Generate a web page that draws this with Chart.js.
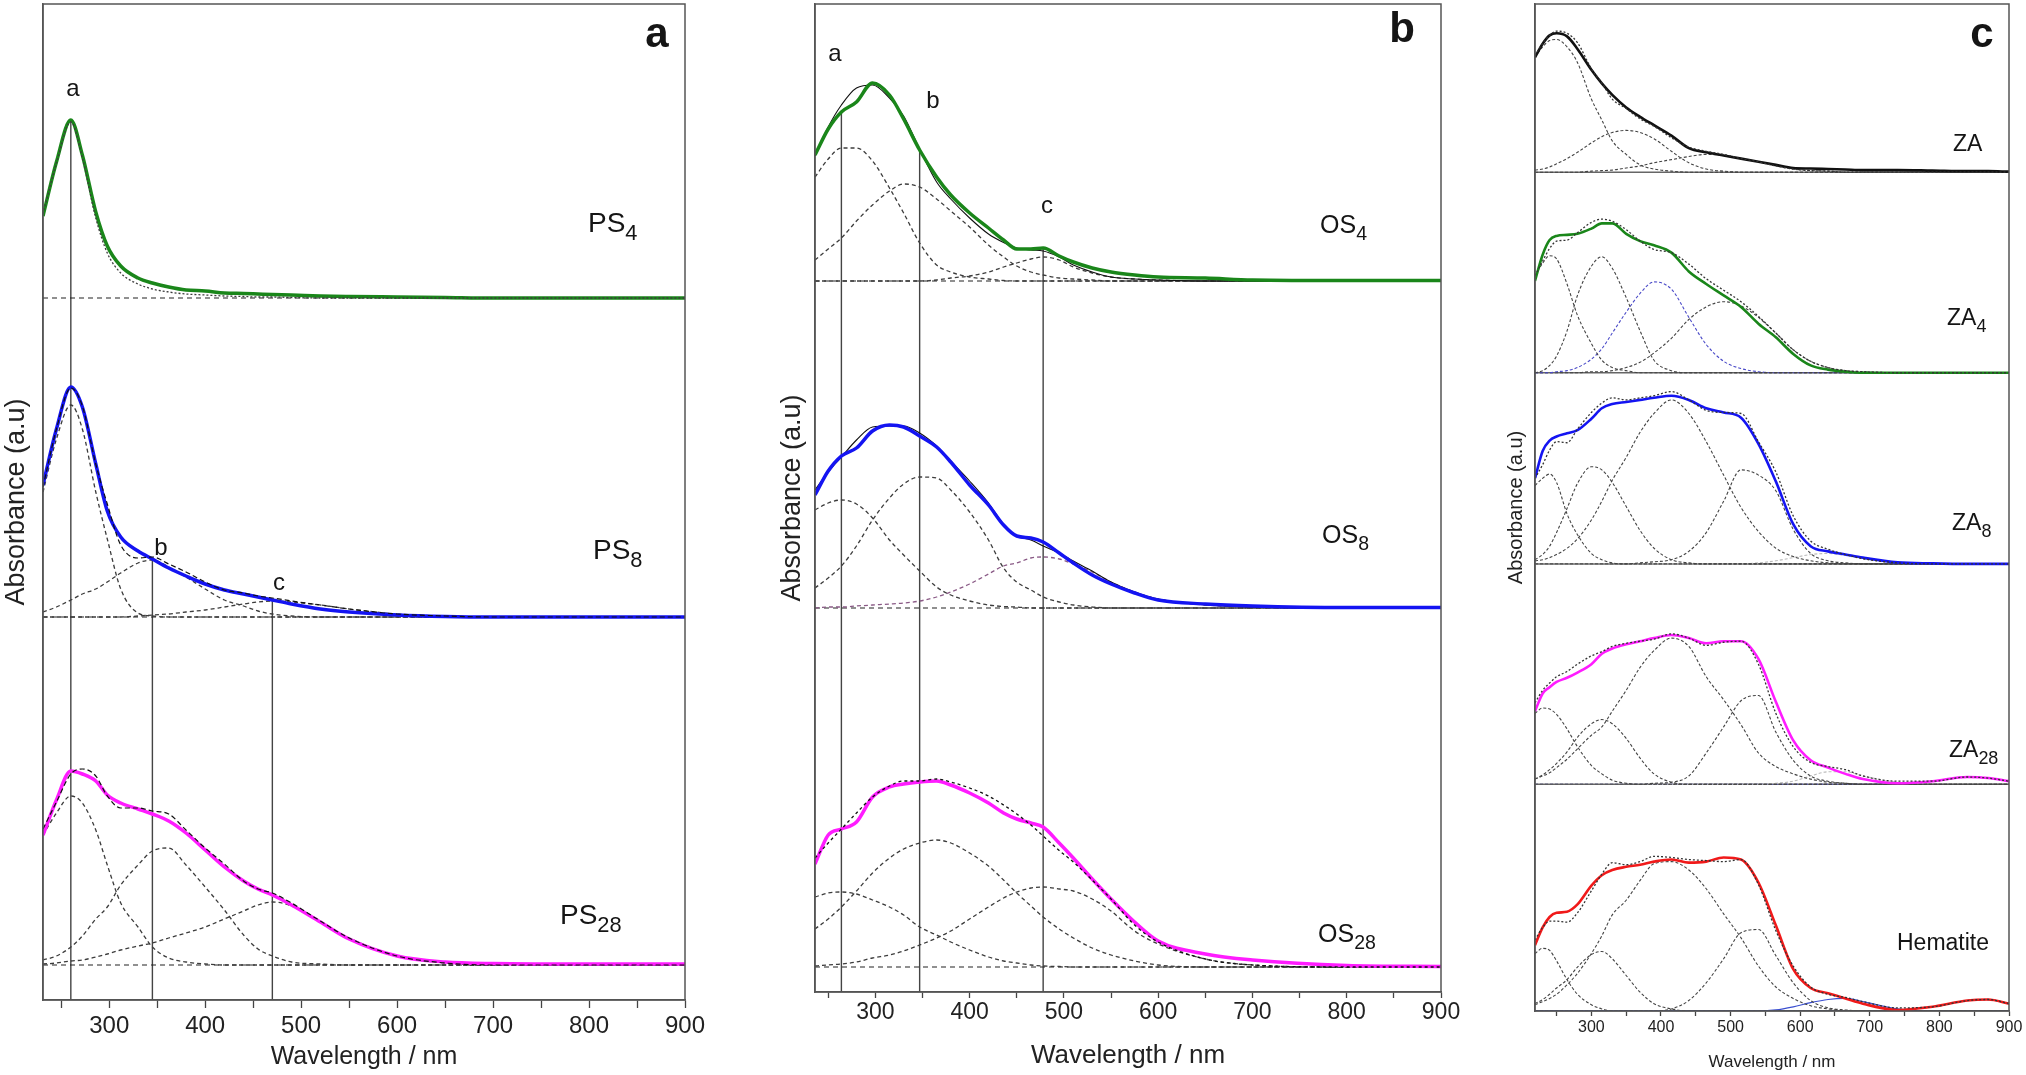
<!DOCTYPE html>
<html>
<head>
<meta charset="utf-8">
<title>UV-Vis deconvolution</title>
<script src="https://cdn.jsdelivr.net/npm/chart.js@4.4.1/dist/chart.umd.min.js"></script>
<style>
  body { margin: 0; background: #fff; width: 2026px; height: 1075px; overflow: hidden; position: relative; }
  canvas { position: absolute; top: 0; }
  .t { position: absolute; line-height: 1; white-space: nowrap; color: #151515; font-family: "Liberation Sans", Arial, sans-serif; }
  .t .s { position: relative; top: 0.38em; font-size: 0.78em; }
  .c { transform: translate(-50%, -50%); }
  .big { font-weight: bold; font-size: 42px; }
  .pk { font-size: 24px; }
  .ps { font-size: 28px; }
  .os { font-size: 25px; }
  .za { font-size: 23px; }
</style>
</head>
<body>
<canvas id="chartA" width="720" height="1075" style="left:0px"></canvas>
<canvas id="chartB" width="720" height="1075" style="left:760px"></canvas>
<canvas id="chartC" width="546" height="1075" style="left:1480px"></canvas>

<!-- etiquetas del panel a -->
<div class="t big c" style="left:657px;top:33px">a</div>
<div class="t pk c" style="left:73px;top:88px">a</div>
<div class="t pk c" style="left:161px;top:547px">b</div>
<div class="t pk c" style="left:279px;top:582px">c</div>
<div class="t ps" style="left:588px;top:209px">PS<span class="s">4</span></div>
<div class="t ps" style="left:593px;top:536px">PS<span class="s">8</span></div>
<div class="t ps" style="left:560px;top:901px">PS<span class="s">28</span></div>

<!-- etiquetas del panel b -->
<div class="t big c" style="left:1402px;top:28px">b</div>
<div class="t pk c" style="left:835px;top:53px">a</div>
<div class="t pk c" style="left:933px;top:100px">b</div>
<div class="t pk c" style="left:1047px;top:205px">c</div>
<div class="t os" style="left:1320px;top:212px">OS<span class="s">4</span></div>
<div class="t os" style="left:1322px;top:522px">OS<span class="s">8</span></div>
<div class="t os" style="left:1318px;top:921px">OS<span class="s">28</span></div>

<!-- etiquetas del panel c -->
<div class="t big c" style="left:1982px;top:33px">c</div>
<div class="t za" style="left:1953px;top:132px">ZA</div>
<div class="t za" style="left:1947px;top:306px">ZA<span class="s">4</span></div>
<div class="t za" style="left:1952px;top:511px">ZA<span class="s">8</span></div>
<div class="t za" style="left:1949px;top:738px">ZA<span class="s">28</span></div>
<div class="t za" style="left:1897px;top:931px">Hematite</div>

<script>
// ---- Panel a: PS4, PS8, PS28 ----
const wlA = [231, 245, 260, 272, 286, 298, 312, 330, 345, 362, 380, 400, 420, 440, 455, 470, 490, 520, 550, 600, 650, 700, 800, 900];
const offA = [7.02, 3.83, 0.35];
const ps4 = [0.82, 1.36, 1.78, 1.43, 0.86, 0.52, 0.32, 0.20, 0.15, 0.11, 0.08, 0.07, 0.05, 0.045, 0.04, 0.035, 0.03, 0.02, 0.015, 0.01, 0.005, 0, 0, 0];
const ps4Band = [0.84, 1.35, 1.76, 1.40, 0.80, 0.45, 0.25, 0.14, 0.09, 0.06, 0.04, 0.03, 0.02, 0.015, 0.01, 0.01, 0.005, 0, 0, 0, 0, 0, 0, 0];
const ps8 = [1.32, 1.88, 2.30, 2.10, 1.53, 1.06, 0.80, 0.66, 0.58, 0.49, 0.41, 0.33, 0.27, 0.23, 0.20, 0.17, 0.13, 0.08, 0.05, 0.02, 0.005, 0, 0, 0];
const ps8A = [1.25, 1.78, 2.12, 1.88, 1.25, 0.78, 0.28, 0.04, 0.01, 0, 0, 0, 0, 0, 0, 0, 0, 0, 0, 0, 0, 0, 0, 0];
const ps8B = [0.05, 0.10, 0.17, 0.23, 0.28, 0.35, 0.44, 0.54, 0.57, 0.50, 0.40, 0.28, 0.17, 0.11, 0.06, 0.03, 0.01, 0, 0, 0, 0, 0, 0, 0];
const ps8C = [0, 0, 0, 0, 0, 0, 0, 0.01, 0.02, 0.03, 0.05, 0.07, 0.10, 0.13, 0.15, 0.16, 0.15, 0.12, 0.08, 0.03, 0.01, 0, 0, 0];
const ps28 = [1.30, 1.65, 1.94, 1.91, 1.84, 1.70, 1.62, 1.56, 1.51, 1.44, 1.32, 1.15, 0.98, 0.84, 0.76, 0.70, 0.60, 0.43, 0.26, 0.09, 0.03, 0.015, 0.01, 0.01];
const ps28A = [1.30, 1.52, 1.69, 1.62, 1.35, 1.00, 0.62, 0.38, 0.18, 0.07, 0.03, 0.01, 0, 0, 0, 0, 0, 0, 0, 0, 0, 0, 0, 0];
const ps28B = [0.05, 0.09, 0.18, 0.29, 0.46, 0.58, 0.80, 1.00, 1.14, 1.17, 1.00, 0.78, 0.55, 0.30, 0.16, 0.09, 0.03, 0.01, 0, 0, 0, 0, 0, 0];
const ps28C = [0.01, 0.02, 0.04, 0.05, 0.08, 0.11, 0.15, 0.19, 0.22, 0.27, 0.32, 0.38, 0.46, 0.54, 0.60, 0.63, 0.59, 0.43, 0.27, 0.09, 0.02, 0, 0, 0];
const peaksA = [260, 345, 470];

// ---- Panel b: OS4, OS8, OS28 ----
const wlB = [236, 250, 264, 280, 297, 315, 330, 347, 365, 380, 400, 420, 436, 450, 465, 478, 495, 510, 530, 550, 575, 600, 650, 700, 800, 900];
const offB = [7.11, 3.84, 0.25];
const os4 = [1.26, 1.52, 1.69, 1.79, 1.98, 1.86, 1.62, 1.31, 1.04, 0.86, 0.68, 0.53, 0.41, 0.32, 0.32, 0.33, 0.25, 0.19, 0.13, 0.09, 0.06, 0.04, 0.03, 0.01, 0.005, 0.005];
const os4A = [1.04, 1.22, 1.33, 1.33, 1.20, 0.93, 0.68, 0.38, 0.16, 0.09, 0.04, 0.02, 0.005, 0, 0, 0, 0, 0, 0, 0, 0, 0, 0, 0, 0, 0];
const os4B = [0.21, 0.32, 0.43, 0.60, 0.76, 0.90, 0.97, 0.94, 0.82, 0.70, 0.54, 0.36, 0.24, 0.15, 0.09, 0.06, 0.03, 0.02, 0.01, 0, 0, 0, 0, 0, 0, 0];
const os4C = [0, 0, 0, 0, 0, 0, 0, 0, 0.01, 0.03, 0.05, 0.09, 0.14, 0.18, 0.22, 0.24, 0.21, 0.14, 0.08, 0.04, 0.02, 0.01, 0, 0, 0, 0];
const os8 = [1.13, 1.37, 1.52, 1.60, 1.77, 1.83, 1.81, 1.72, 1.61, 1.46, 1.23, 1.03, 0.83, 0.72, 0.70, 0.66, 0.55, 0.45, 0.33, 0.24, 0.15, 0.08, 0.04, 0.02, 0.005, 0.005];
const os8A = [0.98, 1.05, 1.08, 1.04, 0.90, 0.68, 0.53, 0.37, 0.21, 0.13, 0.07, 0.03, 0.015, 0.01, 0, 0, 0, 0, 0, 0, 0, 0, 0, 0, 0, 0];
const os8B = [0.20, 0.30, 0.42, 0.62, 0.88, 1.10, 1.24, 1.31, 1.30, 1.18, 0.96, 0.68, 0.40, 0.26, 0.18, 0.11, 0.06, 0.03, 0.01, 0, 0, 0, 0, 0, 0, 0];
const os8C = [0, 0.01, 0.01, 0.02, 0.03, 0.04, 0.05, 0.07, 0.11, 0.16, 0.24, 0.34, 0.42, 0.45, 0.50, 0.51, 0.49, 0.44, 0.36, 0.26, 0.16, 0.09, 0.03, 0.01, 0, 0];
const os28 = [1.03, 1.32, 1.38, 1.45, 1.70, 1.80, 1.83, 1.85, 1.86, 1.82, 1.74, 1.64, 1.54, 1.48, 1.44, 1.40, 1.24, 1.09, 0.88, 0.68, 0.45, 0.26, 0.13, 0.07, 0.015, 0.005];
const os28A = [0.70, 0.74, 0.75, 0.73, 0.67, 0.60, 0.52, 0.40, 0.32, 0.25, 0.17, 0.10, 0.06, 0.04, 0.02, 0.01, 0.005, 0, 0, 0, 0, 0, 0, 0, 0, 0];
const os28B = [0.38, 0.48, 0.60, 0.76, 0.94, 1.09, 1.18, 1.24, 1.27, 1.24, 1.14, 1.01, 0.87, 0.74, 0.61, 0.50, 0.38, 0.29, 0.19, 0.12, 0.06, 0.02, 0, 0, 0, 0];
const os28C = [0.01, 0.02, 0.03, 0.05, 0.09, 0.12, 0.16, 0.22, 0.29, 0.36, 0.48, 0.60, 0.69, 0.75, 0.79, 0.80, 0.78, 0.76, 0.68, 0.56, 0.36, 0.23, 0.08, 0.02, 0, 0];
const peaksB = [264, 347, 478];

// ---- Panel c: ZA, ZA4, ZA8, ZA28, Hematite ----
const wlC = [219, 230, 240, 250, 265, 280, 300, 315, 330, 350, 370, 390, 415, 440, 465, 490, 515, 540, 565, 590, 615, 640, 665, 690, 740, 790, 840, 870, 900];
const offC = [8.03, 6.11, 4.28, 2.17, 0];
const za = [1.10, 1.23, 1.31, 1.33, 1.30, 1.18, 0.98, 0.85, 0.74, 0.62, 0.53, 0.45, 0.35, 0.23, 0.19, 0.16, 0.13, 0.10, 0.07, 0.04, 0.035, 0.03, 0.025, 0.02, 0.02, 0.015, 0.01, 0.01, 0.005];
const zaA = [1.10, 1.20, 1.26, 1.27, 1.20, 1.05, 0.70, 0.50, 0.30, 0.17, 0.07, 0.03, 0.01, 0, 0, 0, 0, 0, 0, 0, 0, 0, 0, 0, 0, 0, 0, 0, 0];
const zaB = [0.02, 0.03, 0.05, 0.08, 0.13, 0.19, 0.28, 0.34, 0.38, 0.40, 0.38, 0.32, 0.20, 0.09, 0.03, 0.01, 0, 0, 0, 0, 0, 0, 0, 0, 0, 0, 0, 0, 0];
const zaC = [0, 0, 0, 0, 0, 0, 0.01, 0.015, 0.02, 0.04, 0.06, 0.09, 0.12, 0.15, 0.17, 0.16, 0.13, 0.10, 0.06, 0.03, 0.015, 0.01, 0, 0, 0, 0, 0, 0, 0];
const za4 = [0.88, 1.13, 1.27, 1.31, 1.32, 1.33, 1.38, 1.43, 1.43, 1.33, 1.26, 1.22, 1.15, 0.97, 0.85, 0.74, 0.63, 0.47, 0.34, 0.18, 0.07, 0.03, 0.01, 0, 0, 0, 0, 0, 0];
const za4A = [0.93, 1.05, 1.12, 1.09, 0.85, 0.55, 0.28, 0.12, 0.05, 0.02, 0, 0, 0, 0, 0, 0, 0, 0, 0, 0, 0, 0, 0, 0, 0, 0, 0, 0, 0];
const za4B = [0, 0.02, 0.07, 0.16, 0.40, 0.74, 1.02, 1.11, 1.00, 0.72, 0.40, 0.12, 0.02, 0, 0, 0, 0, 0, 0, 0, 0, 0, 0, 0, 0, 0, 0, 0, 0];
const za4C = [0, 0, 0, 0.01, 0.02, 0.05, 0.13, 0.23, 0.38, 0.58, 0.76, 0.87, 0.80, 0.53, 0.27, 0.11, 0.04, 0.01, 0, 0, 0, 0, 0, 0, 0, 0, 0, 0, 0];
const za4D = [0, 0, 0, 0, 0, 0, 0.01, 0.01, 0.02, 0.05, 0.10, 0.19, 0.33, 0.51, 0.63, 0.68, 0.64, 0.53, 0.38, 0.22, 0.11, 0.05, 0.02, 0.01, 0, 0, 0, 0, 0];
const za8 = [0.82, 1.08, 1.18, 1.22, 1.25, 1.28, 1.39, 1.49, 1.53, 1.55, 1.57, 1.59, 1.61, 1.57, 1.49, 1.45, 1.40, 1.15, 0.79, 0.38, 0.17, 0.12, 0.09, 0.06, 0.015, 0.005, 0, 0, 0];
const za8A = [0.75, 0.82, 0.86, 0.78, 0.48, 0.28, 0.10, 0.04, 0.01, 0, 0, 0, 0, 0, 0, 0, 0, 0, 0, 0, 0, 0, 0, 0, 0, 0, 0, 0, 0];
const za8B = [0.04, 0.09, 0.17, 0.30, 0.53, 0.77, 0.93, 0.90, 0.78, 0.55, 0.32, 0.15, 0.04, 0.01, 0, 0, 0, 0, 0, 0, 0, 0, 0, 0, 0, 0, 0, 0, 0];
const za8C = [0.03, 0.04, 0.06, 0.09, 0.15, 0.24, 0.42, 0.60, 0.80, 1.02, 1.26, 1.44, 1.57, 1.44, 1.17, 0.85, 0.54, 0.31, 0.15, 0.07, 0.03, 0.01, 0, 0, 0, 0, 0, 0, 0];
const za8D = [0, 0, 0, 0, 0, 0, 0, 0, 0, 0, 0.01, 0.02, 0.04, 0.12, 0.30, 0.60, 0.90, 0.85, 0.70, 0.33, 0.10, 0.03, 0.01, 0, 0, 0, 0, 0, 0];
const za8E = [0, 0, 0, 0, 0, 0, 0, 0, 0, 0, 0, 0, 0, 0, 0, 0, 0, 0.01, 0.03, 0.06, 0.09, 0.10, 0.08, 0.05, 0.01, 0, 0, 0, 0];
const za28 = [0.70, 0.87, 0.93, 0.98, 1.02, 1.07, 1.15, 1.25, 1.30, 1.34, 1.37, 1.40, 1.43, 1.40, 1.35, 1.37, 1.37, 1.20, 0.79, 0.42, 0.23, 0.16, 0.10, 0.05, 0.01, 0.03, 0.07, 0.06, 0.03];
const za28A = [0.68, 0.73, 0.72, 0.67, 0.53, 0.36, 0.18, 0.10, 0.04, 0.01, 0, 0, 0, 0, 0, 0, 0, 0, 0, 0, 0, 0, 0, 0, 0, 0, 0, 0, 0];
const za28B = [0.05, 0.09, 0.14, 0.20, 0.31, 0.45, 0.58, 0.62, 0.58, 0.44, 0.25, 0.10, 0.02, 0, 0, 0, 0, 0, 0, 0, 0, 0, 0, 0, 0, 0, 0, 0, 0];
const za28C = [0.05, 0.08, 0.11, 0.16, 0.24, 0.34, 0.47, 0.55, 0.70, 0.90, 1.12, 1.28, 1.40, 1.32, 1.03, 0.81, 0.57, 0.30, 0.17, 0.10, 0.05, 0.02, 0.01, 0, 0, 0, 0, 0, 0];
const za28D = [0, 0, 0, 0, 0, 0, 0, 0, 0, 0, 0, 0.01, 0.02, 0.08, 0.30, 0.55, 0.80, 0.85, 0.50, 0.23, 0.08, 0.03, 0.01, 0, 0, 0, 0, 0, 0];
const za28E = [0, 0, 0, 0, 0, 0, 0, 0, 0, 0, 0, 0, 0, 0, 0, 0, 0, 0, 0.01, 0.03, 0.08, 0.12, 0.12, 0.08, 0.02, 0, 0, 0, 0];
const za28F = [0, 0, 0, 0, 0, 0, 0, 0, 0, 0, 0, 0, 0, 0, 0, 0, 0, 0, 0, 0, 0, 0, 0, 0, 0.01, 0.03, 0.07, 0.06, 0.03];
const hem = [0.63, 0.80, 0.90, 0.94, 0.95, 1.02, 1.20, 1.30, 1.35, 1.38, 1.40, 1.43, 1.45, 1.42, 1.43, 1.47, 1.45, 1.23, 0.82, 0.40, 0.22, 0.17, 0.12, 0.07, 0.01, 0.04, 0.10, 0.11, 0.07];
const hemA = [0.55, 0.60, 0.58, 0.48, 0.30, 0.16, 0.06, 0.02, 0, 0, 0, 0, 0, 0, 0, 0, 0, 0, 0, 0, 0, 0, 0, 0, 0, 0, 0, 0, 0];
const hemB = [0.07, 0.11, 0.16, 0.22, 0.30, 0.42, 0.54, 0.57, 0.50, 0.34, 0.18, 0.07, 0.02, 0, 0, 0, 0, 0, 0, 0, 0, 0, 0, 0, 0, 0, 0, 0, 0];
const hemC = [0.06, 0.09, 0.12, 0.16, 0.25, 0.36, 0.55, 0.72, 0.92, 1.06, 1.25, 1.41, 1.43, 1.35, 1.17, 0.93, 0.70, 0.43, 0.23, 0.12, 0.05, 0.02, 0, 0, 0, 0, 0, 0, 0];
const hemD = [0, 0, 0, 0, 0, 0, 0, 0, 0, 0, 0, 0, 0.02, 0.10, 0.27, 0.50, 0.75, 0.78, 0.53, 0.27, 0.10, 0.03, 0.01, 0, 0, 0, 0, 0, 0];
const hemE = [0, 0, 0, 0, 0, 0, 0, 0, 0, 0, 0, 0, 0, 0, 0, 0, 0, 0, 0.01, 0.04, 0.08, 0.11, 0.12, 0.09, 0.02, 0, 0, 0, 0];
const hemF = [0, 0, 0, 0, 0, 0, 0, 0, 0, 0, 0, 0, 0, 0, 0, 0, 0, 0, 0, 0, 0, 0, 0, 0, 0.01, 0.04, 0.10, 0.11, 0.07];

const FONT = '"Liberation Sans", Arial, sans-serif';
const GRIS = '#3c3c3c';

// pasa un espectro a puntos {x,y} desplazados
function pts(wl, vals, off) {
    return wl.map((x, i) => ({ x: x, y: vals[i] + off }));
}

function suma(lista) {
    return lista[0].map((_, i) => lista.reduce((s, a) => s + a[i], 0));
}

function curva(data, color, width, dash, order) {
    return {
        data: data, borderColor: color, borderWidth: width, borderDash: dash || [],
        pointRadius: 0, fill: false, cubicInterpolationMode: 'monotone', order: order
    };
}

function recta(data, color, width, dash, order) {
    return {
        data: data, borderColor: color, borderWidth: width, borderDash: dash || [],
        pointRadius: 0, fill: false, tension: 0, order: order
    };
}

function baseLine(wl, off, dash) {
    return recta([{ x: wl[0], y: off }, { x: 900, y: off }], '#222', 1.2, dash, 5);
}

// línea vertical desde el espectro hasta el eje
function marca(wl, vals, off, p) {
    const top = vals[wl.indexOf(p)] + off;
    return recta([{ x: p, y: top }, { x: p, y: 0 }], '#444', 1.4, [], 6);
}

const frame = {
    id: 'frame',
    afterDraw(chart) {
        const { ctx, chartArea: a } = chart;
        ctx.save();
        ctx.strokeStyle = '#555';
        ctx.lineWidth = 1.5;
        ctx.strokeRect(a.left, a.top, a.right - a.left, a.bottom - a.top);
        ctx.restore();
    }
};

function panel(id, xmin, datasets, cfg) {
    return new Chart(document.getElementById(id), {
        type: 'line',
        data: { datasets: datasets },
        options: {
            responsive: false,
            animation: false,
            devicePixelRatio: 1,
            layout: { padding: { left: 0, right: cfg.padRight, top: 4, bottom: 0 } },
            plugins: { legend: { display: false }, tooltip: { enabled: false } },
            scales: {
                x: {
                    type: 'linear', min: xmin, max: 900,
                    ticks: {
                        stepSize: 50, includeBounds: false, autoSkip: false, maxRotation: 0,
                        padding: cfg.tickPad, color: '#222',
                        font: { family: FONT, size: cfg.tickSize },
                        callback: v => (v % 100 === 0 ? v : '')
                    },
                    grid: { drawOnChartArea: false, tickLength: cfg.tickLen, tickColor: '#444', tickWidth: 1.3 },
                    border: { color: '#555', width: 1.5 },
                    title: {
                        display: true, text: 'Wavelength / nm', color: '#222',
                        font: { family: FONT, size: cfg.xTitleSize }, padding: { top: 0, bottom: cfg.xTitlePad }
                    },
                    afterFit: s => { s.height = cfg.xAxisH; }
                },
                y: {
                    min: 0, max: cfg.ymax,
                    ticks: { display: false },
                    grid: { display: false, drawTicks: false },
                    border: { color: '#555', width: 1.5 },
                    title: {
                        display: true, text: 'Absorbance (a.u)', color: '#222',
                        font: { family: FONT, size: cfg.yTitleSize }, padding: { top: cfg.yTitlePad, bottom: 0 }
                    },
                    afterFit: s => { s.width = cfg.yAxisW; }
                }
            }
        },
        plugins: [frame]
    });
}

// ---- datasets panel a ----
const dsA = [];
const dash = [4, 3];
dsA.push(curva(pts(wlA, ps4Band, offA[0]), GRIS, 1.3, [2, 2], 1));
dsA.push(curva(pts(wlA, ps4, offA[0]), '#1a861a', 3.5, [], 2));
[ps8A, ps8B, ps8C].forEach(g => dsA.push(curva(pts(wlA, g, offA[1]), GRIS, 1.3, dash, 4)));
dsA.push(curva(pts(wlA, suma([ps8A, ps8B, ps8C]), offA[1]), '#111', 1.2, [5, 3], 1));
dsA.push(curva(pts(wlA, ps8, offA[1]), '#1414f2', 3.5, [], 2));
[ps28A, ps28B, ps28C].forEach(g => dsA.push(curva(pts(wlA, g, offA[2]), GRIS, 1.3, dash, 4)));
dsA.push(curva(pts(wlA, suma([ps28A, ps28B, ps28C]), offA[2]), '#111', 1.2, [5, 3], 1));
dsA.push(curva(pts(wlA, ps28, offA[2]), '#ff1cff', 3.5, [], 2));
offA.forEach(o => dsA.push(baseLine(wlA, o, [5, 4])));
dsA.push(marca(wlA, ps4, offA[0], peaksA[0]));
dsA.push(marca(wlA, ps8, offA[1], peaksA[1]));
dsA.push(marca(wlA, ps8, offA[1], peaksA[2]));

panel('chartA', wlA[0], dsA, {
    padRight: 35, xAxisH: 75, yAxisW: 43, ymax: 9.96,
    tickSize: 24, tickLen: 8, tickPad: 4, xTitleSize: 25, xTitlePad: 3,
    yTitleSize: 27, yTitlePad: 0
});

// ---- datasets panel b ----
const dsB = [];
const gruposB = [[os4, os4A, os4B, os4C, '#1a861a'], [os8, os8A, os8B, os8C, '#1414f2'], [os28, os28A, os28B, os28C, '#ff1cff']];
gruposB.forEach((g, k) => {
    const off = offB[k];
    dsB.push(curva(pts(wlB, g[1], off), GRIS, 1.3, dash, 4));
    dsB.push(curva(pts(wlB, g[2], off), GRIS, 1.3, dash, 4));
    dsB.push(curva(pts(wlB, g[3], off), k === 1 ? '#8a5a86' : GRIS, 1.3, dash, 4));
    const fit = suma([g[1], g[2], g[3]]);
    dsB.push(curva(pts(wlB, fit, off), '#111', k === 2 ? 1.3 : 1.1, k === 2 ? [3, 3] : [], k === 2 ? 1 : 3));
    dsB.push(curva(pts(wlB, g[0], off), g[4], 3.5, [], 2));
    dsB.push(baseLine(wlB, off, [5, 4]));
});
peaksB.forEach(p => dsB.push(marca(wlB, os4, offB[0], p)));

panel('chartB', wlB[0], dsB, {
    padRight: 39, xAxisH: 83, yAxisW: 55, ymax: 9.88,
    tickSize: 23, tickLen: 6, tickPad: 1, xTitleSize: 26, xTitlePad: 4,
    yTitleSize: 27, yTitlePad: 16
});

// ---- datasets panel c ----
const dsC = [];
const gruposC = [
    [za, [zaA, zaB, zaC], '#111111', []],
    [za4, [za4A, za4B, za4C, za4D], '#1a861a', [null, null, '#4a4ac8', null]],
    [za8, [za8A, za8B, za8C, za8D, za8E], '#1414f2', [null, null, null, null, '#bbbbbb']],
    [za28, [za28A, za28B, za28C, za28D, za28E, za28F], '#ff1cff', [null, null, null, null, '#bbbbbb', '#5a5ad0']],
    [hem, [hemA, hemB, hemC, hemD, hemE, hemF], '#f01a1a', [null, null, null, null, '#3b4fd0', '#3b4fd0']]
];
gruposC.forEach((g, k) => {
    const off = offC[k];
    g[1].forEach((comp, j) => {
        const col = g[3][j] || '#444';
        const solid = k === 4 && j === 4;
        dsC.push(curva(pts(wlC, comp, off), col, solid ? 1.2 : 1.1, solid ? [] : [3, 2], 4));
    });
    dsC.push(curva(pts(wlC, suma(g[1]), off), '#333', 1.3, [2, 2], 1));
    dsC.push(curva(pts(wlC, g[0], off), g[2], 2.6, [], 2));
    // separador entre sub-paneles
    if (off > 0) dsC.push(recta([{ x: wlC[0], y: off }, { x: 900, y: off }], '#666', 1.5, [], 6));
});

panel('chartC', wlC[0], dsC, {
    padRight: 17, xAxisH: 64, yAxisW: 55, ymax: 9.64,
    tickSize: 16, tickLen: 5, tickPad: 2, xTitleSize: 17, xTitlePad: 2,
    yTitleSize: 20, yTitlePad: 24
});
</script>
</body>
</html>
